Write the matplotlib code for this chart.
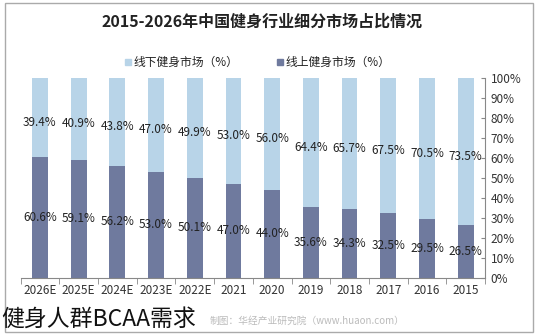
import matplotlib.pyplot as plt
from matplotlib.patches import Rectangle
import numpy as np

plt.rcParams['font.family'] = ['Noto Sans CJK SC', 'DejaVu Sans']

# 数据（读自图片）
years = ["2015", "2016", "2017", "2018", "2019", "2020", "2021",
         "2022E", "2023E", "2024E", "2025E", "2026E"]
online = [26.5, 29.5, 32.5, 34.3, 35.6, 44.0, 47.0, 50.1, 53.0, 56.2, 59.1, 60.6]
offline = [73.5, 70.5, 67.5, 65.7, 64.4, 56.0, 53.0, 49.9, 47.0, 43.8, 40.9, 39.4]

c_online = "#6f7a9e"
c_offline = "#b8d4e8"

fig = plt.figure(figsize=(5.38, 3.36), dpi=100)
ax = fig.add_axes([0.0383, 0.1726, 0.8632, 0.5954])

x = np.arange(len(years))
ax.bar(x, online, width=0.41, color=c_online, label="线上健身市场（%）")
ax.bar(x, offline, width=0.41, bottom=online, color=c_offline, label="线下健身市场（%）")

for i in range(len(years)):
    ax.text(x[i], online[i] / 2, f"{online[i]:.1f}%", ha="center", va="center",
            fontsize=8.5, color="#222222")
    ax.text(x[i], online[i] + offline[i] / 2 - 2.5, f"{offline[i]:.1f}%", ha="center",
            va="center", fontsize=8.5, color="#222222")

# 图片是镜像的：2015在右边，y轴在右侧
ax.set_xlim(-0.5, len(years) - 0.5)
ax.invert_xaxis()
ax.set_ylim(0, 100)
ax.yaxis.tick_right()
ax.set_yticks(range(0, 101, 10))
ax.set_yticklabels([f"{v}%" for v in range(0, 101, 10)], fontsize=8.5, color="#333333")
ax.set_xticks(x)
ax.set_xticklabels(years, fontsize=8.5, color="#333333")
ax.set_xticks(np.arange(-0.5, len(years), 1), minor=True)
ax.tick_params(axis="x", which="major", length=0, pad=4)
ax.tick_params(axis="x", which="minor", length=4, color="#888888")
ax.tick_params(axis="y", direction="in", length=3, color="#888888", pad=4)
for s in ["top", "left"]:
    ax.spines[s].set_visible(False)
ax.spines["right"].set_color("#888888")
ax.spines["bottom"].set_color("#888888")

fig.text(0.487, 0.935, "2015-2026年中国健身行业细分市场占比情况", ha="center", va="center",
         fontsize=11.5, fontweight="bold", color="#222222")

# 图例（镜像位置）
fig.patches.append(Rectangle((0.232, 0.806), 0.011, 0.018, transform=fig.transFigure,
                             color=c_offline))
fig.text(0.248, 0.815, "线下健身市场（%）", ha="left", va="center", fontsize=8.5, color="#222222")
fig.patches.append(Rectangle((0.515, 0.806), 0.011, 0.018, transform=fig.transFigure,
                             color=c_online))
fig.text(0.531, 0.815, "线上健身市场（%）", ha="left", va="center", fontsize=8.5, color="#222222")

fig.text(0.39, 0.045, "制图：华经产业研究院（www.huaon.com）", ha="left", va="center",
         fontsize=7, color="#bbbbbb")
fig.text(0.003, 0.05, "健身人群BCAA需求", ha="left", va="center", fontsize=16.5, color="#111111")

fig.patches.append(Rectangle((0.009, 0.012), 0.982, 0.98, transform=fig.transFigure,
                             fill=False, edgecolor="#aaaaaa", linewidth=1))

fig.savefig("out.png", dpi=100)
